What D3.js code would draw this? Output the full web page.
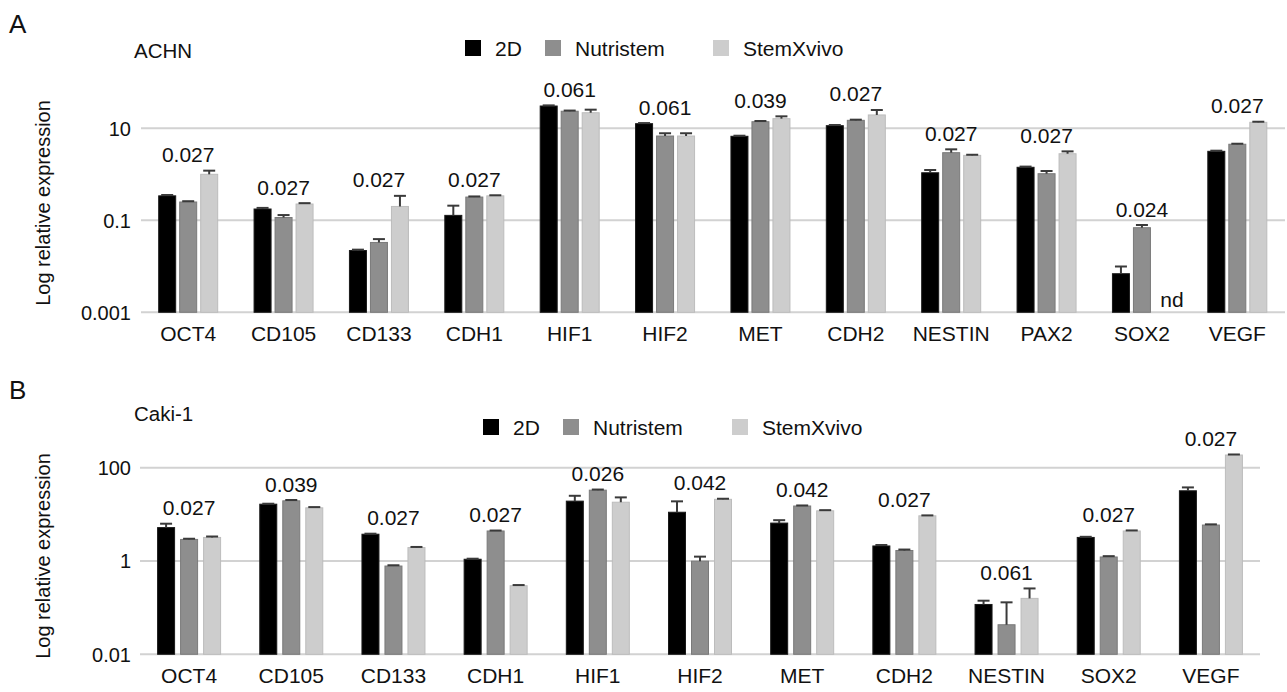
<!DOCTYPE html>
<html>
<head>
<meta charset="utf-8">
<script src="https://cdn.jsdelivr.net/npm/d3@7"></script>
<style>
  body { margin: 0; background: #fff; }
  svg text { font-family: "Liberation Sans", Arial, Helvetica, sans-serif; fill: #111; }
</style>
</head>
<body>
<svg id="chart" width="1287" height="692"></svg>
<script>
const seriesNames = ["2D", "Nutristem", "StemXvivo"];
const seriesFill = ["#000000", "#8e8e8e", "#cdcdcd"];
const seriesStroke = ["#1a1a1a", "#7a7a7a", "#bcbcbc"];

// panel A - ACHN
const genesA = ["OCT4", "CD105", "CD133", "CDH1", "HIF1", "HIF2", "MET", "CDH2", "NESTIN", "PAX2", "SOX2", "VEGF"];
const twoDA = [0.34, 0.176, 0.022, 0.128, 30.5, 12.6, 6.7, 11.4, 1.08, 1.42, 0.0069, 3.16];
const nutriA = [0.25, 0.115, 0.033, 0.32, 23.5, 6.8, 13.9, 14.9, 2.95, 1.03, 0.069, 4.5];
const stemA = [1.0, 0.226, 0.2, 0.34, 21.8, 6.8, 16.2, 19.5, 2.58, 2.8, null, 13.5];
const twoDErrA = [0.015, 0.01, 0.001, 0.08, 1, 0.4, 0.2, 0.4, 0.16, 0.05, 0.003, 0.1];
const nutriErrA = [0.01, 0.015, 0.006, 0.01, 0.8, 1.0, 0.5, 0.5, 0.54, 0.15, 0.01, 0.12];
const stemErrA = [0.2, 0.01, 0.14, 0.01, 3.6, 1.0, 2, 5.5, 0.08, 0.35, null, 0.4];
const pA = ["0.027", "0.027", "0.027", "0.027", "0.061", "0.061", "0.039", "0.027", "0.027", "0.027", "0.024", "0.027"];
const ticksA = [0.001, 0.1, 10];

// panel B - Caki-1
const genesB = ["OCT4", "CD105", "CD133", "CDH1", "HIF1", "HIF2", "MET", "CDH2", "NESTIN", "SOX2", "VEGF"];
const twoDB = [5.2, 16.5, 3.75, 1.09, 19.2, 11.1, 6.5, 2.1, 0.117, 3.2, 32];
const nutriB = [2.9, 19.5, 0.78, 4.4, 33, 0.99, 15.1, 1.68, 0.043, 1.22, 5.9];
const stemB = [3.2, 13.8, 1.94, 0.295, 18.2, 21, 11.9, 9.3, 0.158, 4.4, 187];
const twoDErrB = [1.1, 0.4, 0.1, 0.03, 5.8, 7.9, 1.0, 0.1, 0.024, 0.1, 5.8];
const nutriErrB = [0.1, 0.8, 0.03, 0.1, 1, 0.25, 0.4, 0.08, 0.087, 0.05, 0.2];
const stemErrB = [0.15, 0.5, 0.06, 0.01, 4.9, 0.6, 0.4, 0.2, 0.1, 0.12, 5];
const pB = ["0.027", "0.039", "0.027", "0.027", "0.026", "0.042", "0.042", "0.027", "0.061", "0.027", "0.027"];
const ticksB = [0.01, 1, 100];

const svg = d3.select("#chart");

const drawPanel = (cfg) => {
  const g = svg.append("g");

  const x = d3.scaleBand().domain(cfg.genes).range(cfg.xRange).padding(0);
  const y = d3.scaleLog().domain(cfg.yDomain).range(cfg.yRange);
  const base = cfg.yDomain[0];

  // gridlines
  g.append("g")
    .selectAll("line")
    .data(cfg.ticks)
    .join("line")
    .attr("x1", cfg.gridX[0])
    .attr("x2", cfg.gridX[1])
    .attr("y1", d => y(d))
    .attr("y2", d => y(d))
    .attr("stroke", "#d2d2d2")
    .attr("stroke-width", 2);

  // y axis tick labels
  g.append("g")
    .selectAll("text")
    .data(cfg.ticks)
    .join("text")
    .attr("x", 131)
    .attr("y", d => y(d))
    .attr("dy", "0.36em")
    .attr("text-anchor", "end")
    .style("font-size", "20px")
    .text(d => d3.format("~g")(d));

  // x axis labels
  g.append("g")
    .selectAll("text")
    .data(cfg.genes)
    .join("text")
    .attr("x", d => x(d) + x.bandwidth() / 2)
    .attr("y", cfg.yRange[0] + 29)
    .attr("text-anchor", "middle")
    .style("font-size", "21px")
    .text(d => d);

  const rows = [];
  cfg.genes.forEach((gene, i) => {
    cfg.series.forEach((s, k) => {
      rows.push({gene, k, v: s.values[i], e: s.errs[i]});
    });
  });

  const bx = d => x(d.gene) + x.bandwidth() / 2 + (d.k - 1) * cfg.step;

  const present = rows.filter(d => d.v != null);

  g.append("g")
    .selectAll("rect")
    .data(present)
    .join("rect")
    .attr("x", d => bx(d) - cfg.barW / 2)
    .attr("width", cfg.barW)
    .attr("y", d => y(d.v))
    .attr("height", d => y(base) - y(d.v))
    .attr("fill", d => seriesFill[d.k])
    .attr("stroke", d => seriesStroke[d.k])
    .attr("stroke-width", 1);

  // error bars (upper only)
  const eg = g.append("g").attr("stroke", "#3a3a3a").attr("stroke-width", 2);
  eg.selectAll("line.v")
    .data(present)
    .join("line")
    .attr("class", "v")
    .attr("x1", d => bx(d))
    .attr("x2", d => bx(d))
    .attr("y1", d => y(d.v))
    .attr("y2", d => y(d.v + d.e));
  eg.selectAll("line.c")
    .data(present)
    .join("line")
    .attr("class", "c")
    .attr("x1", d => bx(d) - 6)
    .attr("x2", d => bx(d) + 6)
    .attr("y1", d => y(d.v + d.e))
    .attr("y2", d => y(d.v + d.e));

  // not detected
  g.append("g")
    .selectAll("text")
    .data(rows.filter(d => d.v == null))
    .join("text")
    .attr("x", d => bx(d) + 9)
    .attr("y", cfg.yRange[0] - 5)
    .attr("text-anchor", "middle")
    .style("font-size", "21px")
    .text("nd");

  // p-values
  g.append("g")
    .selectAll("text")
    .data(cfg.genes)
    .join("text")
    .attr("x", d => x(d) + x.bandwidth() / 2)
    .attr("y", (d, i) => {
      const tops = cfg.series
        .filter(s => s.values[i] != null)
        .map(s => y(s.values[i] + s.errs[i]));
      return d3.min(tops) - 8.5;
    })
    .attr("text-anchor", "middle")
    .style("font-size", "21px")
    .text((d, i) => cfg.p[i]);

  // y title
  g.append("text")
    .attr("transform", `translate(${cfg.titleX},${cfg.titleY}) rotate(-90)`)
    .attr("text-anchor", "middle")
    .attr("dy", "0.36em")
    .style("font-size", "20px")
    .text("Log relative expression");

  // panel letter and cell line
  g.append("text")
    .attr("x", 9)
    .attr("y", cfg.letterY)
    .style("font-size", "26px")
    .text(cfg.letter);
  g.append("text")
    .attr("x", 134)
    .attr("y", cfg.cellY)
    .attr("dy", "0.36em")
    .style("font-size", "20.5px")
    .text(cfg.cell);

  // legend
  const lg = g.append("g");
  seriesNames.forEach((name, k) => {
    lg.append("rect")
      .attr("x", cfg.legendX[k])
      .attr("y", cfg.legendY - 8)
      .attr("width", 16)
      .attr("height", 16)
      .attr("fill", seriesFill[k]);
    lg.append("text")
      .attr("x", cfg.legendX[k] + 30)
      .attr("y", cfg.legendY)
      .attr("dy", "0.36em")
      .style("font-size", "21px")
      .text(name);
  });
};

drawPanel({
  genes: genesA,
  series: [
    {values: twoDA, errs: twoDErrA},
    {values: nutriA, errs: nutriErrA},
    {values: stemA, errs: stemErrA}
  ],
  p: pA,
  ticks: ticksA,
  xRange: [140.5, 1285],
  gridX: [141, 1285],
  yDomain: [0.001, 10],
  yRange: [312.3, 128.3],
  barW: 17,
  step: 21,
  titleX: 43, titleY: 203,
  letter: "A", letterY: 33,
  cell: "ACHN", cellY: 51,
  legendX: [465, 545, 713],
  legendY: 48
});

drawPanel({
  genes: genesB,
  series: [
    {values: twoDB, errs: twoDErrB},
    {values: nutriB, errs: nutriErrB},
    {values: stemB, errs: stemErrB}
  ],
  p: pB,
  ticks: ticksB,
  xRange: [138, 1262],
  gridX: [140, 1260],
  yDomain: [0.01, 100],
  yRange: [654.3, 467.7],
  barW: 17,
  step: 23,
  titleX: 43, titleY: 556,
  letter: "B", letterY: 399,
  cell: "Caki-1", cellY: 414,
  legendX: [483, 563, 732],
  legendY: 427
});
</script>
</body>
</html>
